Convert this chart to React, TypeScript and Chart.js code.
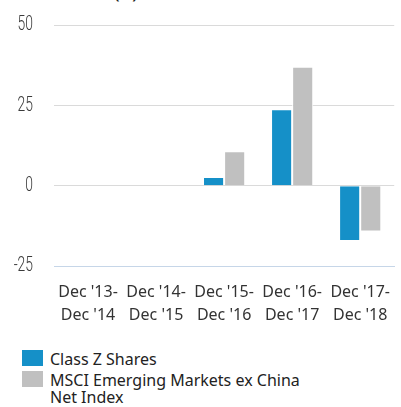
import React, { useEffect, useRef } from "react";
import { Chart, registerables } from "chart.js";

Chart.register(...registerables);

const categories: string[][] = [
  ["Dec '13-", "Dec '14"],
  ["Dec '14-", "Dec '15"],
  ["Dec '15-", "Dec '16"],
  ["Dec '16-", "Dec '17"],
  ["Dec '17-", "Dec '18"],
];
const classZ: (number | null)[] = [null, null, 2.7, 23.8, -17.2];
const msci: (number | null)[] = [null, null, 10.7, 37.0, -14.3];
const yTicks = [-25, 0, 25, 50];
const seriesNames = ["Class Z Shares", "MSCI Emerging Markets ex China Net Index"];
const BLUE = "#1590c8";
const GREY = "#c0c0c0";

const condensedYTicks = {
  id: "condensedYTicks",
  afterDraw(chart: any) {
    const s = chart.scales.y;
    const ctx = chart.ctx;
    ctx.save();
    ctx.fillStyle = "#3a3a3a";
    ctx.font = "300 21px Roboto, 'Noto Sans', sans-serif";
    ctx.textAlign = "right";
    ctx.textBaseline = "middle";
    for (const t of s.ticks) {
      const y = s.getPixelForValue(t.value);
      ctx.save();
      ctx.translate(s.right - 21, y);
      ctx.scale(0.66, 1);
      ctx.fillText(String(t.value), 0, 0);
      ctx.restore();
    }
    ctx.restore();
  },
};

export default function App() {
  const ref = useRef<HTMLCanvasElement>(null);
  useEffect(() => {
    if (!ref.current) return;
    const chart = new Chart(ref.current, {
      type: "bar",
      data: {
        labels: categories as any,
        datasets: [
          { label: seriesNames[0], data: classZ, backgroundColor: BLUE, borderColor: "#ffffff", borderWidth: 1, barPercentage: 1, categoryPercentage: 0.62 },
          { label: seriesNames[1], data: msci, backgroundColor: GREY, borderColor: "#ffffff", borderWidth: 1, barPercentage: 1, categoryPercentage: 0.62 },
        ],
      },
      plugins: [condensedYTicks],
      options: {
        animation: false,
        responsive: false,
        maintainAspectRatio: false,
        layout: { padding: { top: 25, left: 0, right: 0, bottom: 0 } },
        plugins: { legend: { display: false }, tooltip: { enabled: false }, title: { display: false } },
        scales: {
          x: {
            grid: { display: false, drawTicks: false },
            border: { display: true, color: "#c6d6e8", width: 1 },
            ticks: {
              color: "#333333",
              font: { family: "'Noto Sans', sans-serif", size: 16, lineHeight: 1.45 },
              padding: 15,
              maxRotation: 0,
              autoSkip: false,
            },
            afterFit: (s: any) => { s.height = 64; },
          },
          y: {
            min: -25,
            max: 50,
            afterBuildTicks: (s: any) => { s.ticks = yTicks.map((v) => ({ value: v })); },
            grid: { color: "#dadada", lineWidth: 1, drawTicks: false },
            border: { display: false },
            ticks: { display: false },
            afterFit: (s: any) => { s.width = 54; },
          },
        },
      },
    });
    return () => chart.destroy();
  }, []);

  return (
    <div style={{ position: "fixed", left: 0, top: 0, width: 401, height: 407, overflow: "hidden", background: "#fff" }}>
      <div style={{ position: "absolute", left: 18, top: -13, fontFamily: "'Noto Sans', sans-serif", fontWeight: 700, fontSize: 14, lineHeight: "14px", color: "#222", whiteSpace: "nowrap" }}>
        Total Returns (%)
      </div>
      <canvas ref={ref} width={405} height={330} style={{ position: "absolute", left: 0, top: 0, width: 405, height: 330 }} />
      {seriesNames.map((name, i) => (
        <div key={name} style={{ position: "absolute", left: 0, top: i === 0 ? 349 : 370, width: 401, height: 38 }}>
          <div style={{ position: "absolute", left: 22, top: 1, width: 21, height: 16, background: i === 0 ? BLUE : GREY }} />
          <div style={{ position: "absolute", left: 50, top: 2, width: 260, fontFamily: "'Noto Sans', sans-serif", fontSize: 16, lineHeight: "17px", color: "#222" }}>
            {name}
          </div>
        </div>
      ))}
    </div>
  );
}
